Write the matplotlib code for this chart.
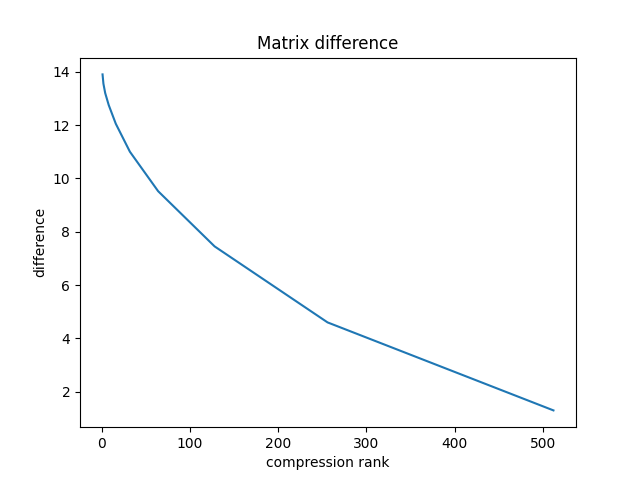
import matplotlib
matplotlib.use("Agg")
import matplotlib.pyplot as plt

# compression ranks and matrix differences
ranks = [1, 2, 4, 8, 16, 32, 64, 128, 256, 512]
differences = [13.9, 13.55, 13.2, 12.75, 12.05, 11.0, 9.52, 7.45, 4.6, 1.3]

fig = plt.figure(figsize=(6.4, 4.8), dpi=100)
plt.plot(ranks, differences)
plt.xlabel("compression rank")
plt.ylabel("difference")
plt.title("Matrix difference")
plt.savefig("out.png")
plt.close()
